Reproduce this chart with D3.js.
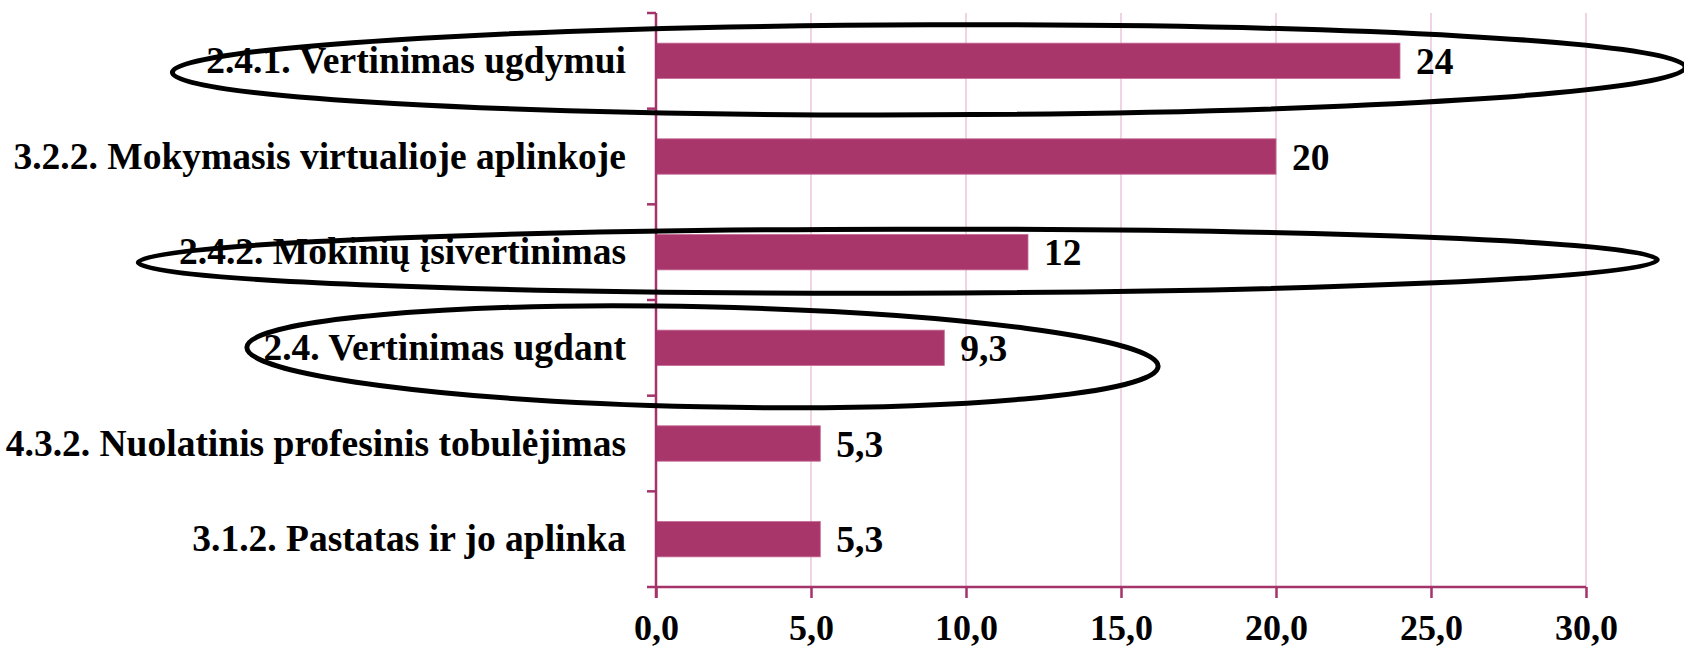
<!DOCTYPE html>
<html>
<head>
<meta charset="utf-8">
<script src="https://cdn.jsdelivr.net/npm/d3@7"></script>
<style>
  body { margin: 0; background: #fff; }
  svg { display: block; }
  text { font-family: 'Liberation Serif', 'Times New Roman', serif; font-weight: bold; font-size: 37.5px; }
</style>
</head>
<body>
<svg id="chart" width="1684" height="649"></svg>
<script>
// data
const categories = [
  '2.4.1. Vertinimas ugdymui',
  '3.2.2. Mokymasis virtualioje aplinkoje',
  '2.4.2. Mokinių įsivertinimas',
  '2.4. Vertinimas ugdant',
  '4.3.2. Nuolatinis profesinis tobulėjimas',
  '3.1.2. Pastatas ir jo aplinka'
];
const values = [24, 20, 12, 9.3, 5.3, 5.3];
const valueLabels = ['24', '20', '12', '9,3', '5,3', '5,3'];
const xTicks = [0, 5, 10, 15, 20, 25, 30];
// hand drawn ellipses round the highlighted rows: [category, x-from, x-to (data units), half height, tilt]
const ellipses = [
  ['2.4.1. Vertinimas ugdymui', -15.6, 33.2, 45, -0.2],
  ['2.4.2. Mokinių įsivertinimas', -16.7, 32.3, 32, -0.1],
  ['2.4. Vertinimas ugdant', -13.2, 16.2, 50, 1.2]
];

const style = {
  margin: { left: 656, top: 13 },
  width: 930,
  height: 574,
  bar: '#a8366b',
  axis: '#a3336a',
  grid: '#f1d4e3'
};

const svg = d3.select('#chart');

const x = d3
  .scaleLinear()
  .domain([0, 30])
  .range([style.margin.left, style.margin.left + style.width]);

const y = d3
  .scaleBand()
  .domain(categories)
  .range([style.margin.top, style.margin.top + style.height])
  .paddingInner(0.63)
  .paddingOuter(0.315);

const bottom = style.margin.top + style.height;

// vertical grid lines
svg
  .append('g')
  .selectAll('line')
  .data(xTicks.slice(1))
  .join('line')
  .attr('x1', (d) => x(d))
  .attr('x2', (d) => x(d))
  .attr('y1', style.margin.top)
  .attr('y2', bottom)
  .attr('stroke', style.grid)
  .attr('stroke-width', 2);

// bars
svg
  .append('g')
  .selectAll('rect')
  .data(values)
  .join('rect')
  .attr('x', x(0))
  .attr('y', (d, i) => y(categories[i]))
  .attr('width', (d) => x(d) - x(0))
  .attr('height', y.bandwidth())
  .attr('fill', style.bar)
  .attr('stroke', '#c76a96')
  .attr('stroke-width', 0.8);

// value labels
svg
  .append('g')
  .selectAll('text')
  .data(values)
  .join('text')
  .attr('x', (d) => x(d) + 16)
  .attr('y', (d, i) => y(categories[i]) + y.bandwidth() / 2 + 13)
  .text((d, i) => valueLabels[i]);

// x axis
const fmt = (d) => d3.format('.1f')(d).replace('.', ',');
const xAxis = svg
  .append('g')
  .attr('transform', `translate(0,${bottom})`)
  .call(d3.axisBottom(x).tickValues(xTicks).tickFormat(fmt).tickSize(11).tickSizeOuter(0));
xAxis.attr('font-family', null).attr('font-size', null);
xAxis.select('.domain').remove();
xAxis
  .append('line')
  .attr('x1', x(0) - 9)
  .attr('x2', x(30))
  .attr('stroke', style.axis)
  .attr('stroke-width', 2.5);
xAxis.selectAll('.tick line').attr('stroke', style.axis).attr('stroke-width', 2.5);
xAxis
  .selectAll('.tick text')
  .attr('fill', '#000')
  .attr('y', 53)
  .attr('dy', null)
  .style('font-size', '36px');

// y axis line with ticks between the bands
const yAxis = svg.append('g');
yAxis
  .append('line')
  .attr('x1', x(0))
  .attr('x2', x(0))
  .attr('y1', style.margin.top)
  .attr('y2', bottom + 11)
  .attr('stroke', style.axis)
  .attr('stroke-width', 2.5);
yAxis
  .selectAll('.ytick')
  .data(d3.range(categories.length))
  .join('line')
  .attr('class', 'ytick')
  .attr('x1', x(0) - 9)
  .attr('x2', x(0))
  .attr('y1', (i) => style.margin.top + i * y.step())
  .attr('y2', (i) => style.margin.top + i * y.step())
  .attr('stroke', style.axis)
  .attr('stroke-width', 2.5);

// category labels
yAxis
  .selectAll('text')
  .data(categories)
  .join('text')
  .attr('x', x(0) - 30)
  .attr('y', (d) => y(d) + y.bandwidth() / 2 + 12)
  .attr('text-anchor', 'end')
  .text((d) => d);

// ellipses drawn over the chart
const ecx = (d) => (x(d[1]) + x(d[2])) / 2;
const ecy = (d) => y(d[0]) + y.bandwidth() / 2 + 9;
svg
  .append('g')
  .selectAll('ellipse')
  .data(ellipses)
  .join('ellipse')
  .attr('cx', ecx)
  .attr('cy', ecy)
  .attr('rx', (d) => (x(d[2]) - x(d[1])) / 2)
  .attr('ry', (d) => d[3])
  .attr('transform', (d) => `rotate(${d[4]},${ecx(d)},${ecy(d)})`)
  .attr('fill', 'none')
  .attr('stroke', '#000')
  .attr('stroke-width', 5);
</script>
</body>
</html>
